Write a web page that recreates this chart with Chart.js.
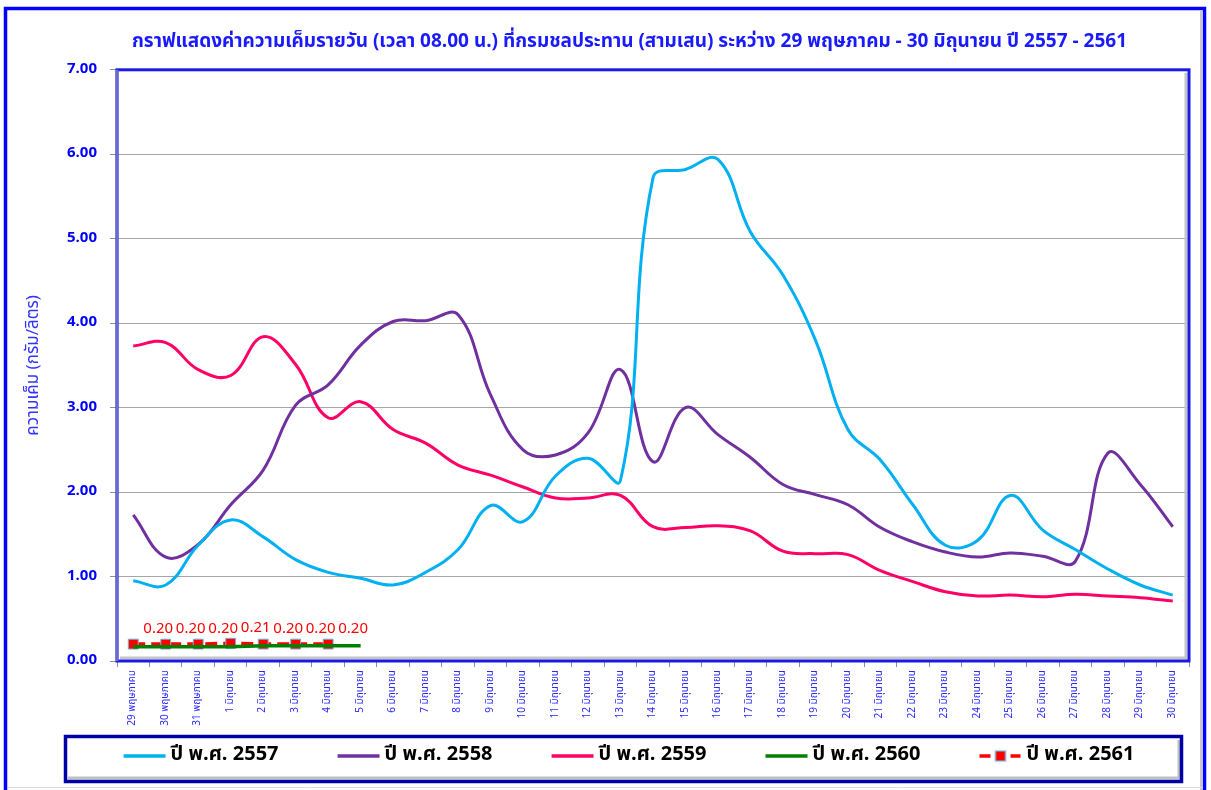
<!DOCTYPE html>
<html>
<head>
<meta charset="utf-8">
<script src="https://cdn.jsdelivr.net/npm/chart.js@4/dist/chart.umd.min.js"></script>
<style>
html,body{margin:0;padding:0;background:#fff;}
#wrap{position:absolute;left:0;top:0;width:1211px;height:790px;}
</style>
</head>
<body>
<div id="wrap"><canvas id="c" width="1211" height="790"></canvas></div>
<script>
const categories = ['29 พฤษภาคม','30 พฤษภาคม','31 พฤษภาคม','1 มิถุนายน','2 มิถุนายน','3 มิถุนายน','4 มิถุนายน','5 มิถุนายน','6 มิถุนายน','7 มิถุนายน','8 มิถุนายน','9 มิถุนายน','10 มิถุนายน','11 มิถุนายน','12 มิถุนายน','13 มิถุนายน','14 มิถุนายน','15 มิถุนายน','16 มิถุนายน','17 มิถุนายน','18 มิถุนายน','19 มิถุนายน','20 มิถุนายน','21 มิถุนายน','22 มิถุนายน','23 มิถุนายน','24 มิถุนายน','25 มิถุนายน','26 มิถุนายน','27 มิถุนายน','28 มิถุนายน','29 มิถุนายน','30 มิถุนายน'];

const y2557 = [0.95,0.90,1.37,1.67,1.47,1.20,1.05,0.98,0.90,1.05,1.32,1.84,1.65,2.19,2.40,2.14,5.72,5.82,5.94,5.08,4.57,3.80,2.74,2.38,1.85,1.37,1.43,1.96,1.55,1.32,1.09,0.90,0.78];
const y2558 = [1.73,1.23,1.38,1.85,2.26,3.03,3.27,3.74,4.02,4.03,4.10,3.15,2.50,2.44,2.70,3.45,2.36,3.00,2.68,2.41,2.09,1.97,1.85,1.58,1.41,1.29,1.23,1.28,1.24,1.18,2.46,2.09,1.59];
const y2559 = [3.73,3.77,3.45,3.38,3.84,3.51,2.88,3.07,2.74,2.58,2.32,2.20,2.06,1.93,1.93,1.96,1.59,1.58,1.60,1.54,1.30,1.27,1.26,1.07,0.94,0.82,0.77,0.78,0.76,0.79,0.77,0.75,0.71];
const y2560 = [0.17,0.17,0.17,0.17,0.18,0.18,0.18,0.18];
const y2561 = [0.20,0.20,0.20,0.21,0.20,0.20,0.20];

const seriesNames = ['ปี พ.ศ. 2557','ปี พ.ศ. 2558','ปี พ.ศ. 2559','ปี พ.ศ. 2560','ปี พ.ศ. 2561'];
const seriesColors = ['#00b0f0','#7030a0','#ff0066','#008000','#ff0000'];
const yTicks = [0,1,2,3,4,5,6,7];

const TH = "Tahoma, 'Noto Sans Thai', 'Noto Sans', sans-serif";

function legendImg(i){
  const cv = document.createElement('canvas');
  cv.width = 100; cv.height = 14;
  const g = cv.getContext('2d');
  g.lineWidth = 3.5;
  if (i === 4) {
    g.strokeStyle = seriesColors[4];
    g.beginPath(); g.moveTo(56,7); g.lineTo(67,7); g.moveTo(87,7); g.lineTo(97,7); g.stroke();
    g.fillStyle = '#ff0000'; g.fillRect(72,2,10,10);
    g.strokeStyle = '#6fb7d9'; g.lineWidth = 1.2; g.strokeRect(72,2,10,10);
  } else {
    g.strokeStyle = seriesColors[i];
    g.beginPath(); g.moveTo(56,7); g.lineTo(98,7); g.stroke();
  }
  return cv;
}

const framePlugin = {
  id: 'frames',
  afterLayout(chart){
    const t = chart.titleBlock;
    if (t) { t.left += 25; t.right += 25; }
  },
  beforeDraw(chart){
    const ctx = chart.ctx;
    ctx.save();
    ctx.fillStyle = '#ffffff';
    ctx.fillRect(0,0,chart.width,chart.height);
    ctx.strokeStyle = '#c8c8c8'; ctx.lineWidth = 2;
    ctx.beginPath(); ctx.moveTo(1201,11); ctx.lineTo(1201,795); ctx.stroke();
    ctx.strokeStyle = '#dcdcdc'; ctx.lineWidth = 1;
    ctx.beginPath(); ctx.moveTo(8,787.5); ctx.lineTo(1202,787.5); ctx.stroke();
    ctx.strokeStyle = '#0000ff'; ctx.lineWidth = 3.5;
    ctx.strokeRect(5.5, 8.5, 1199, 800);
    ctx.strokeStyle = '#c0c0c0'; ctx.lineWidth = 3;
    ctx.beginPath(); ctx.moveTo(1179,740); ctx.lineTo(1179,778); ctx.lineTo(68,778); ctx.stroke();
    ctx.strokeStyle = '#0000a8'; ctx.lineWidth = 3.5;
    ctx.strokeRect(65.5, 736.5, 1116, 45);
    ctx.restore();
  },
  beforeDatasetsDraw(chart){
    const ctx = chart.ctx, a = chart.chartArea;
    ctx.save();
    ctx.strokeStyle = '#c4c4c4'; ctx.lineWidth = 3;
    ctx.beginPath(); ctx.moveTo(a.right-3, a.top+3); ctx.lineTo(a.right-3, a.bottom-3); ctx.lineTo(a.left+3, a.bottom-3); ctx.stroke();
    ctx.strokeStyle = '#1a1ae6'; ctx.lineWidth = 3;
    ctx.strokeRect(a.left, a.top, a.right-a.left, a.bottom-a.top);
    ctx.strokeStyle = '#6a6ad0'; ctx.lineWidth = 3;
    ctx.beginPath(); ctx.moveTo(a.left, a.top); ctx.lineTo(a.left, a.bottom); ctx.stroke();
    ctx.restore();
  }
};

const labelPlugin = {
  id: 'pointLabels',
  afterDatasetsDraw(chart){
    const ctx = chart.ctx;
    const meta = chart.getDatasetMeta(4);
    ctx.save();
    ctx.fillStyle = '#ff0000';
    ctx.font = "15px " + TH;
    ctx.textAlign = 'center'; ctx.textBaseline = 'middle';
    meta.data.forEach((pt, i) => {
      const v = chart.data.datasets[4].data[i];
      if (v == null) return;
      ctx.fillText(v.toFixed(2), pt.x + 25, pt.y - 14);
    });
    ctx.restore();
  }
};

const datasets = [
  {label: seriesNames[0], data: y2557, borderColor: seriesColors[0], backgroundColor: seriesColors[0], borderWidth: 3, pointRadius: 0, tension: 0.4},
  {label: seriesNames[1], data: y2558, borderColor: seriesColors[1], backgroundColor: seriesColors[1], borderWidth: 3, pointRadius: 0, tension: 0.4},
  {label: seriesNames[2], data: y2559, borderColor: seriesColors[2], backgroundColor: seriesColors[2], borderWidth: 3, pointRadius: 0, tension: 0.4},
  {label: seriesNames[3], data: y2560, borderColor: seriesColors[3], backgroundColor: seriesColors[3], borderWidth: 3.5, pointRadius: 0, tension: 0.4},
  {label: seriesNames[4], data: y2561, borderColor: seriesColors[4], backgroundColor: '#ff0000', borderWidth: 3.5, borderDash: [12,6], pointStyle: 'rect', pointRadius: 7, pointBorderColor: '#6fb7d9', pointBorderWidth: 1, pointBackgroundColor: '#ff0000', tension: 0}
];

new Chart(document.getElementById('c'), {
  type: 'line',
  data: {labels: categories, datasets: datasets},
  plugins: [framePlugin, labelPlugin],
  options: {
    responsive: false,
    animation: false,
    devicePixelRatio: 1,
    layout: {padding: {left: 20, right: 22, top: 0, bottom: 14}},
    plugins: {
      tooltip: {enabled: false},
      title: {
        display: true,
        text: 'กราฟแสดงค่าความเค็มรายวัน (เวลา 08.00 น.) ที่กรมชลประทาน (สามเสน) ระหว่าง 29 พฤษภาคม - 30 มิถุนายน ปี 2557 - 2561',
        color: '#1a1aff',
        font: {family: TH, size: 19, weight: 'bold', lineHeight: 1.2},
        padding: {top: 32, bottom: 15}
      },
      legend: {
        position: 'bottom',
        labels: {
          usePointStyle: true,
          pointStyleWidth: 86,
          padding: 10,
          color: '#000000',
          font: {family: TH, size: 20, weight: 'bold'},
          generateLabels(chart){
            const items = Chart.defaults.plugins.legend.labels.generateLabels(chart);
            items.forEach((it, i) => { it.pointStyle = legendImg(i); it.lineWidth = 0; });
            return items;
          }
        }
      }
    },
    scales: {
      x: {
        offset: true,
        afterFit(scale){ scale.height = 790 - 14 - scale.chart.legend.height - 661; },
        grid: {display: true, drawOnChartArea: false, offset: true, tickLength: 6, color: '#909090', tickColor: '#909090'},
        border: {display: false},
        ticks: {
          autoSkip: false, minRotation: 90, maxRotation: 90, padding: 3,
          color: '#2b2bff', font: {family: TH, size: 10}
        }
      },
      y: {
        min: 0, max: 7,
        afterFit(scale){ scale.width = 97; },
        afterBuildTicks(scale){ scale.ticks = yTicks.map(v => ({value: v})); },
        grid: {color: '#a6a6a6', lineWidth: 1, tickLength: 7, tickColor: '#909090'},
        border: {display: false},
        ticks: {
          padding: 13, color: '#0000ff',
          font: {family: TH, size: 15, weight: 'bold'},
          callback: v => Number(v).toFixed(2)
        },
        title: {
          display: true, text: 'ความเค็ม (กรัม/ลิตร)', color: '#3333ff',
          font: {family: TH, size: 17}, padding: {top: 4, bottom: 4}
        }
      }
    }
  }
});
</script>
</body>
</html>
